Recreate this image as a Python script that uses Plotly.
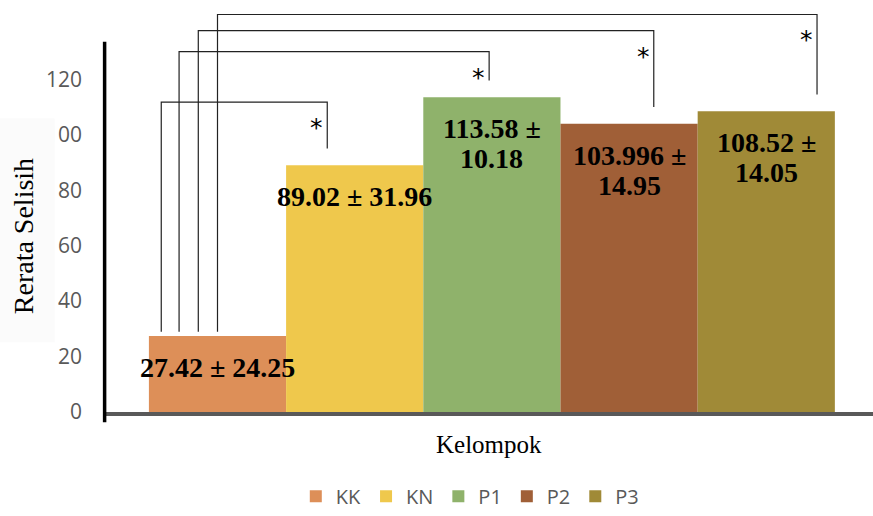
import plotly.graph_objects as go

# Group data: mean difference ± SD per group
groups = ["KK", "KN", "P1", "P2", "P3"]
means = [27.42, 89.02, 113.58, 103.996, 108.52]
sds = [24.25, 31.96, 10.18, 14.95, 14.05]
colors = ["#dd8f58", "#efc84c", "#8fb26b", "#a05f37", "#a08a37"]
wrap_label = [False, False, True, True, True]

y_ticks = [0, 20, 40, 60, 80, 100, 120]

# Significance brackets: control KK vs each other group
bracket_pairs = [(0, 1), (0, 2), (0, 3), (0, 4)]
bracket_tops = [111.8, 130.0, 137.6, 143.4]
bracket_left_off = [-0.41, -0.28, -0.14, 0.0]
bracket_right_off = [-0.20, -0.02, 0.18, 0.37]
bracket_gap = 6.0

Y_MAX = 146.1
X_RANGE = [-0.82, 4.778]

fig = go.Figure()
for i, g in enumerate(groups):
    fig.add_trace(go.Bar(
        x=[i], y=[means[i]], width=1.0, name=g,
        marker=dict(color=colors[i], line=dict(width=0)),
    ))

annotations = []
shapes = []

# value labels inside / on top of the bars
label_font = dict(family="Liberation Serif", size=28, color="black", weight="bold")
for i in range(len(groups)):
    if wrap_label[i]:
        lines = [f"{means[i]} ±", f"{sds[i]}"]
    else:
        lines = [f"{means[i]} ± {sds[i]}"]
    for k, line in enumerate(lines):
        annotations.append(dict(
            x=i, y=means[i], xref="x", yref="y", text=line, showarrow=False,
            xanchor="center", yanchor="top", yshift=-14 - 30 * k, font=label_font,
        ))

# brackets with stars
for n, (a, b) in enumerate(bracket_pairs):
    xl = a + bracket_left_off[n]
    xr = b + bracket_right_off[n]
    top = bracket_tops[n]
    path = (f"M {xl},{means[a] + 1.5} L {xl},{top} L {xr},{top} "
            f"L {xr},{means[b] + bracket_gap}")
    shapes.append(dict(type="path", path=path, xref="x", yref="y",
                       line=dict(color="#222222", width=1.2)))
    annotations.append(dict(
        x=xr, y=top, xref="x", yref="y", text="*", showarrow=False,
        xanchor="right", yanchor="top", xshift=-2, yshift=-9,
        font=dict(family="DejaVu Sans", size=25, color="black"),
    ))

# vertical axis line
shapes.append(dict(type="line", xref="paper", yref="paper",
                   x0=-0.0005, x1=-0.0005, y0=-0.025, y1=133.6 / Y_MAX,
                   line=dict(color="black", width=3.5), layer="above"))

# faint panel behind the y-axis title (drawn over the tick labels)
annotations.append(dict(
    x=-0.1016, y=0.4497, xref="paper", yref="paper", text=" ",
    textangle=-90, width=223, height=54, bgcolor="#fbfbfb", borderpad=0,
    showarrow=False, xanchor="center", yanchor="middle",
    font=dict(family="Liberation Serif", size=10, color="black"),
))
annotations.append(dict(
    x=-0.1068, y=0.434, xref="paper", yref="paper", text="Rerata Selisih",
    textangle=-90, showarrow=False, xanchor="center", yanchor="middle",
    font=dict(family="Liberation Serif", size=28, color="black"),
))
annotations.append(dict(
    x=0.5, y=-0.081, xref="paper", yref="paper", text="Kelompok",
    showarrow=False, xanchor="center", yanchor="middle",
    font=dict(family="Liberation Serif", size=25, color="black"),
))

fig.update_layout(
    width=873, height=516,
    margin=dict(l=105, r=0, t=7, b=101),
    paper_bgcolor="white", plot_bgcolor="white",
    barmode="overlay",
    showlegend=True,
    legend=dict(orientation="h", x=0.475, xanchor="center", y=-0.208,
                yanchor="middle", itemwidth=30,
                font=dict(family="Open Sans", size=20, color="#595959")),
    xaxis=dict(range=X_RANGE, showticklabels=False, showgrid=False,
               zeroline=False, showline=True, linecolor="#595959",
               linewidth=4, ticks=""),
    yaxis=dict(range=[0, Y_MAX], tickvals=y_ticks, showgrid=False,
               zeroline=False, showline=False, ticks="",
               ticklabelstandoff=22,
               tickfont=dict(family="Open Sans", size=21, color="#595959")),
    annotations=annotations,
    shapes=shapes,
)

fig.write_html("out.html")
